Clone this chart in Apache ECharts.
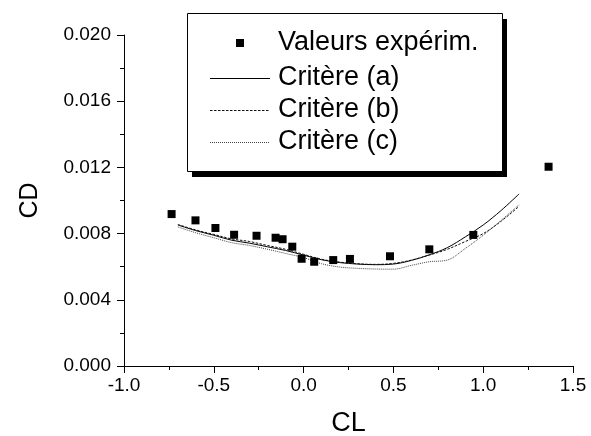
<!DOCTYPE html>
<html>
<head>
<meta charset="utf-8">
<script src="https://cdn.jsdelivr.net/npm/echarts@6/dist/echarts.min.js"></script>
<style>
  html, body { margin: 0; padding: 0; background: #fff; }
  #chart { width: 591px; height: 436px; }
</style>
</head>
<body>
<div id="chart"></div>
<script>
// Experimental drag polar: CL (lift) vs CD (drag)
const expCL = [-0.735, -0.602, -0.491, -0.387, -0.262, -0.156, -0.117, -0.063, -0.011, 0.059, 0.165, 0.258, 0.481, 0.700, 0.945, 1.364];
const expCD = [0.00918, 0.00880, 0.00834, 0.00793, 0.00787, 0.00775, 0.00766, 0.00721, 0.00648, 0.00630, 0.00640, 0.00647, 0.00663, 0.00705, 0.00792, 0.01204];

// Computed polars for the three transition criteria
const calcCL = [-0.70, -0.60, -0.50, -0.40, -0.30, -0.20, -0.10, 0.00, 0.10, 0.20, 0.30, 0.40, 0.50, 0.60, 0.70, 0.80, 0.90, 1.00, 1.10, 1.20];
const critA = [0.00852, 0.00818, 0.00790, 0.00760, 0.00742, 0.00720, 0.00698, 0.00670, 0.00642, 0.00625, 0.00616, 0.00612, 0.00616, 0.00638, 0.00672, 0.00715, 0.00780, 0.00852, 0.00940, 0.01040];
const critB = [0.00855, 0.00822, 0.00795, 0.00768, 0.00752, 0.00728, 0.00705, 0.00675, 0.00645, 0.00628, 0.00618, 0.00614, 0.00620, 0.00640, 0.00670, 0.00705, 0.00752, 0.00800, 0.00875, 0.00965];
const critC = [0.00840, 0.00805, 0.00775, 0.00745, 0.00728, 0.00705, 0.00680, 0.00655, 0.00618, 0.00598, 0.00590, 0.00586, 0.00585, 0.00608, 0.00630, 0.00640, 0.00710, 0.00790, 0.00880, 0.00975];

const seriesNames = ['Valeurs expérim.', 'Critère (a)', 'Critère (b)', 'Critère (c)'];

const xTicks = { min: -1.0, max: 1.5, step: 0.5 };
const yTicks = { min: 0.000, max: 0.020, step: 0.004 };

const FONT = "'Liberation Sans', Arial, sans-serif";

// line dash patterns for the three criteria
const styleA = { color: '#000', width: 1, type: 'solid' };
const styleB = { color: '#111', width: 1, type: [2.5, 1.5] };
const styleC = { color: '#444', width: 1, type: [1, 1] };

function pairs(xs, ys) { return xs.map((x, i) => [x, ys[i]]); }

const chart = echarts.init(document.getElementById('chart'), null, { renderer: 'canvas' });

const axisCommon = {
  axisLine: { show: true, onZero: false, lineStyle: { color: '#000', width: 1 } },
  axisTick: { show: true, inside: false, length: 7, lineStyle: { color: '#000', width: 1 } },
  minorTick: { show: true, splitNumber: 2, length: 4, lineStyle: { color: '#000', width: 1 } },
  splitLine: { show: false },
  axisLabel: { color: '#000', fontFamily: FONT, fontSize: 19 },
  nameTextStyle: { color: '#000', fontFamily: FONT }
};

const lineSeries = (name, data, ls) => ({
  name, type: 'line', data: pairs(calcCL, data),
  symbol: 'none', smooth: 0.35,
  lineStyle: ls,
  itemStyle: { color: ls.color },
  z: 2
});

// Framed key with a solid drop shadow, drawn at the top of the plot
const key = { x: 187, y: 13, w: 315, h: 158, shadowDx: 5, shadowDy: 6, iconX1: 210, iconX2: 270, textX: 278, rows: [43, 78, 110, 142] };
const keyStyles = [null, styleA, styleB, styleC];
const keyElements = [
  { type: 'rect', shape: { x: key.x + key.shadowDx, y: key.y + key.shadowDy, width: key.w, height: key.h }, style: { fill: '#000' }, z: 10 },
  { type: 'rect', shape: { x: key.x + 0.5, y: key.y + 0.5, width: key.w, height: key.h }, style: { fill: '#fff', stroke: '#000', lineWidth: 1 }, z: 11 }
];
seriesNames.forEach((name, i) => {
  const cy = key.rows[i];
  if (i === 0) {
    keyElements.push({ type: 'rect', shape: { x: (key.iconX1 + key.iconX2) / 2 - 4, y: cy - 4, width: 8, height: 8 }, style: { fill: '#000' }, z: 12 });
  } else {
    const ls = keyStyles[i];
    keyElements.push({
      type: 'line', shape: { x1: key.iconX1, y1: cy + 0.5, x2: key.iconX2, y2: cy + 0.5 },
      style: { stroke: ls.color, lineWidth: 1, lineDash: Array.isArray(ls.type) ? ls.type : null }, z: 12
    });
  }
  keyElements.push({
    type: 'text', x: key.textX, y: cy,
    style: { text: name, fill: '#000', font: "27px " + FONT, textVerticalAlign: 'middle', verticalAlign: 'middle' }, z: 12
  });
});

chart.setOption({
  animation: false,
  backgroundColor: '#fff',
  grid: { left: 124, right: 18, top: 35, bottom: 70, containLabel: false, outerBoundsMode: 'none' },
  xAxis: Object.assign({}, axisCommon, {
    type: 'value', min: xTicks.min, max: xTicks.max, interval: xTicks.step,
    name: 'CL', nameLocation: 'middle', nameGap: 44,
    nameTextStyle: { color: '#000', fontFamily: FONT, fontSize: 27 },
    axisLabel: Object.assign({}, axisCommon.axisLabel, { margin: 10, formatter: v => v.toFixed(1) })
  }),
  yAxis: Object.assign({}, axisCommon, {
    type: 'value', min: yTicks.min, max: yTicks.max, interval: yTicks.step,
    name: 'CD', nameLocation: 'middle', nameGap: 81, nameRotate: 90,
    nameTextStyle: { color: '#000', fontFamily: FONT, fontSize: 25 },
    axisLabel: Object.assign({}, axisCommon.axisLabel, { margin: 13, formatter: v => v.toFixed(3) })
  }),
  graphic: keyElements,
  series: [
    {
      name: seriesNames[0], type: 'scatter', data: pairs(expCL, expCD),
      symbol: 'rect', symbolSize: 8,
      itemStyle: { color: '#000', opacity: 1 }, z: 3
    },
    lineSeries(seriesNames[1], critA, styleA),
    lineSeries(seriesNames[2], critB, styleB),
    lineSeries(seriesNames[3], critC, styleC)
  ]
});
</script>
</body>
</html>
